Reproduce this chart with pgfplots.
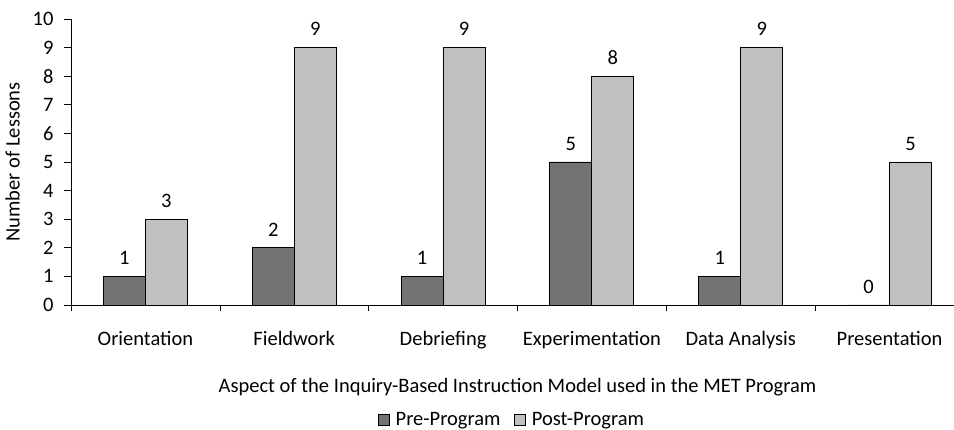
\documentclass[border=0pt]{standalone}
\usepackage{pgfplots}
\pgfplotsset{compat=1.18}
\usepackage{fontspec}
\setmainfont{Carlito}
\definecolor{preC}{RGB}{115,115,115}
\definecolor{postC}{RGB}{192,192,192}
\begin{document}
\begin{tikzpicture}
\begin{axis}[
  at={(0pt,0pt)}, anchor=south west,
  scale only axis, width=893pt, height=286pt,
  xmin=-0.5, xmax=5.5, ymin=0, ymax=10,
  axis x line*=bottom, axis y line*=left,
  axis line style={black, line width=0.8pt},
  ybar=0pt, bar width=0.282,
  ytick={0,1,...,10},
  xtick={0,1,2,3,4,5},
  xticklabels={Orientation,Fieldwork,Debriefing,Experimentation,Data Analysis,Presentation},
  minor xtick={-0.5,0.5,1.5,2.5,3.5,4.5,5.5},
  tick align=outside,
  major tick length=7pt, minor tick length=6pt,
  xtick style={draw=none},
  minor x tick style={draw=black, line width=0.6pt},
  ytick style={black, line width=0.6pt},
  tick label style={font=\fontsize{20.5}{24}\selectfont},
  /pgf/number format/assume math mode=true,
  xticklabel style={yshift=-16pt},
  yticklabel style={xshift=-7pt},
  xlabel={Aspect of the Inquiry-Based Instruction Model used in the MET Program},
  ylabel={Number of Lessons},
  label style={font=\fontsize{20.5}{24}\selectfont},
  xlabel style={yshift=-22pt},
  ylabel style={yshift=6pt},
  nodes near coords,
  every node near coord/.append style={font=\fontsize{20.5}{24}\selectfont, yshift=8pt, black},
  legend style={at={(0.494,-0.402)}, anchor=center, draw=none, fill=none,
    legend columns=2, font=\fontsize{20.5}{24}\selectfont,
    /tikz/every even column/.append style={column sep=12pt}},
  legend image code/.code={\draw[#1, line width=0.8pt] (0pt,-5pt) rectangle (11pt,6pt);
    \path[draw=none, fill=none] (11pt,0pt) -- (15pt,0pt);},
]
\addplot[fill=preC, draw=black, line width=0.9pt, bar shift=-0.141] coordinates {(0,1) (1,2) (2,1) (3,5) (4,1) (5,0)};
\addplot[fill=postC, draw=black, line width=0.9pt, bar shift=0.141] coordinates {(0,3) (1,9) (2,9) (3,8) (4,9) (5,5)};
\legend{Pre-Program, Post-Program}
\end{axis}
\pgfresetboundingbox
\path[use as bounding box] (-71pt,-125pt) rectangle (883pt,305pt);
\end{tikzpicture}
\end{document}
